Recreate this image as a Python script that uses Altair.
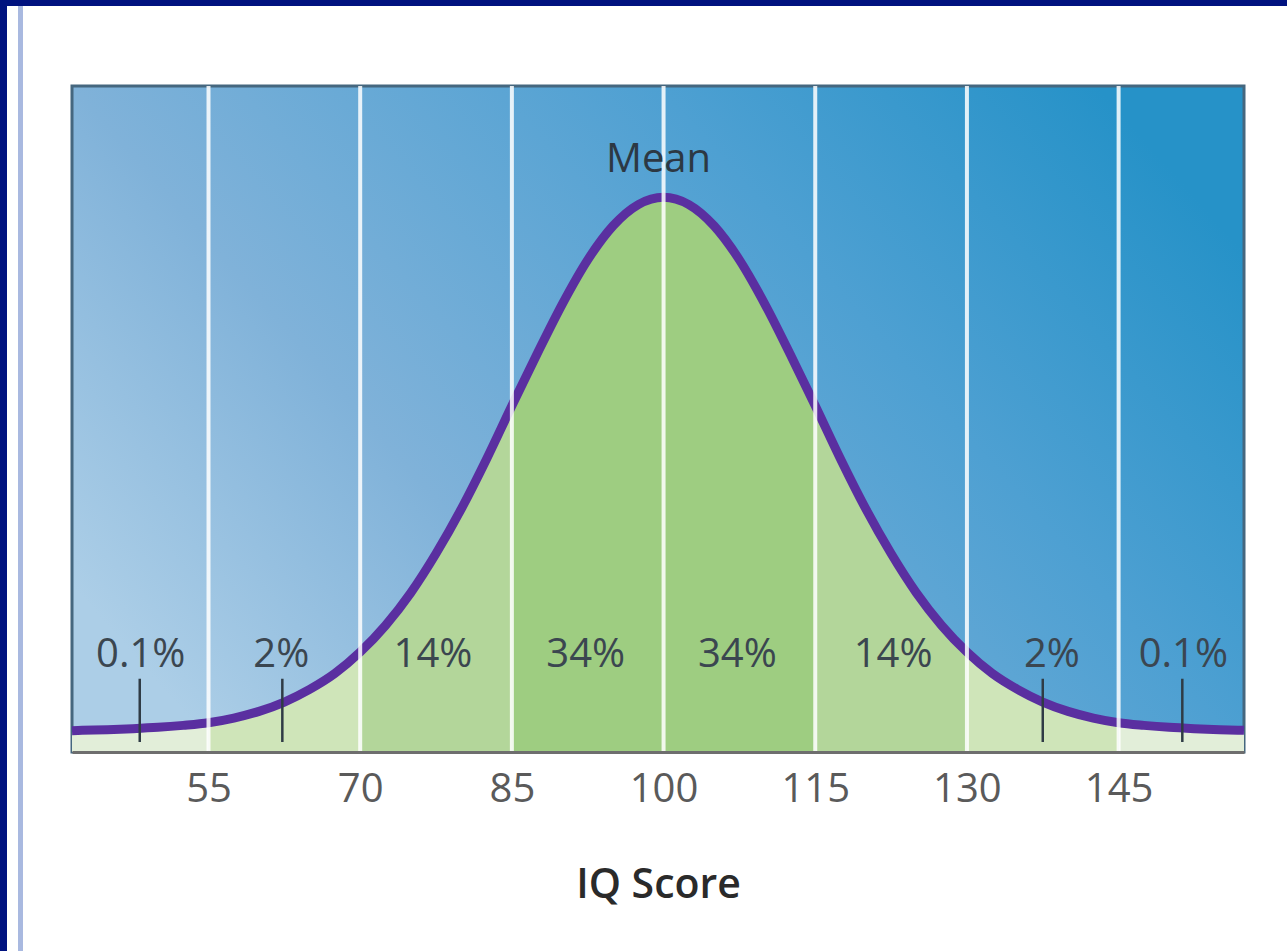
import altair as alt
import pandas as pd

# ---- data ----
iq_points = [41.5, 42.5, 45, 47.5, 50, 52.5, 55, 57.5, 60, 62.5, 65, 67.5, 70, 72.5, 75, 77.5, 80, 82.5,
             85, 87.5, 90, 92.5, 95, 97.5, 100, 102.5, 105, 107.5, 110, 112.5, 115,
             117.5, 120, 122.5, 125, 127.5, 130, 132.5, 135, 137.5, 140, 142.5, 145,
             147.5, 150, 152.5, 155, 157.4]
curve_height = [3.2, 3.25, 3.35, 3.5, 3.7, 4.0, 4.4, 5.1, 6.1, 7.5, 9.4, 11.8, 15.0, 19.0, 23.9, 29.8, 36.5, 44.0,
                52.0, 59.8, 67.3, 73.9, 79.0, 82.2, 83.3, 82.2, 79.0, 73.9, 67.3, 59.8, 52.0,
                44.0, 36.5, 29.8, 23.9, 19.0, 15.0, 11.8, 9.4, 7.5, 6.1, 5.1, 4.4,
                4.0, 3.7, 3.5, 3.35, 3.25]

band_edges = [41.5, 55, 70, 85, 115, 130, 145, 157.4]
band_names = ["tail", "two", "fourteen", "mid", "fourteen", "two", "tail"]
band_domain = ["tail", "two", "fourteen", "mid"]
band_colors = ["#e2eed9", "#cfe5b9", "#b3d69a", "#9ecd81"]

sd_lines = [55, 70, 85, 100, 115, 130, 145]
tick_labels = [55, 70, 85, 100, 115, 130, 145]

pct_labels = ["0.1%", "2%", "14%", "34%", "34%", "14%", "2%", "0.1%"]
pct_x = [48.3, 62.2, 77.2, 92.3, 107.3, 122.7, 138.4, 151.4]
pct_y = 14.6

marker_x = [48.2, 62.3, 137.5, 151.3]
marker_y0 = 1.5
marker_y1 = 11.0

mean_label = "Mean"
mean_x = 99.5
mean_y = 88.9

X_DOMAIN = [41.5, 157.4]
Y_DOMAIN = [0, 100]
W, H = 1172, 666
PAD = {"left": 72, "top": 86, "right": 43, "bottom": 199}
FONT = "Open Sans"

# ---- tables ----
curve = pd.DataFrame({"iq": iq_points, "h": curve_height})
rows = []
for seg, (lo, hi, name) in enumerate(zip(band_edges[:-1], band_edges[1:], band_names)):
    for x, h in zip(iq_points, curve_height):
        if lo <= x <= hi:
            rows.append({"iq": x, "h": h, "band": name, "seg": seg})
bands = pd.DataFrame(rows)

xs = alt.Scale(domain=X_DOMAIN, nice=False, zero=False)
ys = alt.Scale(domain=Y_DOMAIN, nice=False, zero=False)

xaxis = alt.Axis(values=tick_labels, labelFontSize=40, labelFont=FONT, labelColor="#5a5a5a",
                 tickSize=0, labelPadding=17, domainColor="#6e6e6e", domainWidth=3,
                 grid=False, title="IQ Score", titleFontSize=41, titleFont=FONT,
                 titleFontWeight=600, titleColor="#2a2a2a", titlePadding=56, zindex=1)

# ---- decoration: white page with navy frame ----
dummy = pd.DataFrame({"a": [0]})
page = alt.Chart(dummy).mark_rect(color="white").encode(
    x=alt.value(7 - PAD["left"]), x2=alt.value(1287 - PAD["left"]),
    y=alt.value(6 - PAD["top"]), y2=alt.value(951 - PAD["top"]))
stripe = alt.Chart(dummy).mark_rect(color="#a9b9e0").encode(
    x=alt.value(18 - PAD["left"]), x2=alt.value(23 - PAD["left"]),
    y=alt.value(6 - PAD["top"]), y2=alt.value(951 - PAD["top"]))

grad = alt.Gradient(gradient="linear", x1=0, y1=0.75, x2=1, y2=0.25,
                    stops=[alt.GradientStop(color="#accee7", offset=0),
                           alt.GradientStop(color="#80b2d9", offset=0.3),
                           alt.GradientStop(color="#4ea0d2", offset=0.7),
                           alt.GradientStop(color="#2692c8", offset=1)])
bg = alt.Chart(dummy).mark_rect(fill=grad, stroke="#45677f", strokeWidth=3).encode(
    x=alt.value(0), x2=alt.value("width"), y=alt.value(0), y2=alt.value("height"))

areas = alt.Chart(bands).mark_area(interpolate="monotone", opacity=1).encode(
    x=alt.X("iq:Q", scale=xs, axis=xaxis),
    y=alt.Y("h:Q", scale=ys, axis=None),
    y2=alt.datum(0),
    color=alt.Color("band:N", scale=alt.Scale(domain=band_domain, range=band_colors), legend=None),
    detail="seg:N")

line = alt.Chart(curve).mark_line(interpolate="monotone", color="#5a2fa0", strokeWidth=9).encode(
    x=alt.X("iq:Q", scale=xs), y=alt.Y("h:Q", scale=ys))

white_lines = alt.Chart(pd.DataFrame({"iq": sd_lines})).mark_rule(
    color="white", strokeWidth=4, opacity=0.85).encode(
    x=alt.X("iq:Q", scale=xs), y=alt.value(0), y2=alt.value("height"))

markers = alt.Chart(pd.DataFrame({"iq": marker_x, "y0": [marker_y0] * 4, "y1": [marker_y1] * 4})).mark_rule(
    color="#2f3b45", strokeWidth=2.5).encode(
    x=alt.X("iq:Q", scale=xs), y=alt.Y("y0:Q", scale=ys), y2="y1:Q")

pcts = alt.Chart(pd.DataFrame({"iq": pct_x, "lab": pct_labels, "y": [pct_y] * len(pct_x)})).mark_text(
    fontSize=40, font=FONT, color="#3b4650", baseline="middle", align="center").encode(
    x=alt.X("iq:Q", scale=xs), y=alt.Y("y:Q", scale=ys), text="lab:N")

mean = alt.Chart(pd.DataFrame({"iq": [mean_x], "y": [mean_y], "lab": [mean_label]})).mark_text(
    fontSize=40, font=FONT, color="#2c3843", baseline="middle", align="center").encode(
    x=alt.X("iq:Q", scale=xs), y=alt.Y("y:Q", scale=ys), text="lab:N")

chart = alt.layer(page, stripe, bg, areas, line, white_lines, markers, pcts, mean).properties(
    width=W, height=H, autosize="none", padding=PAD, background="#00127f"
).configure_view(stroke=None)

chart.save("out.html", embed_options={"renderer": "svg", "actions": False})
